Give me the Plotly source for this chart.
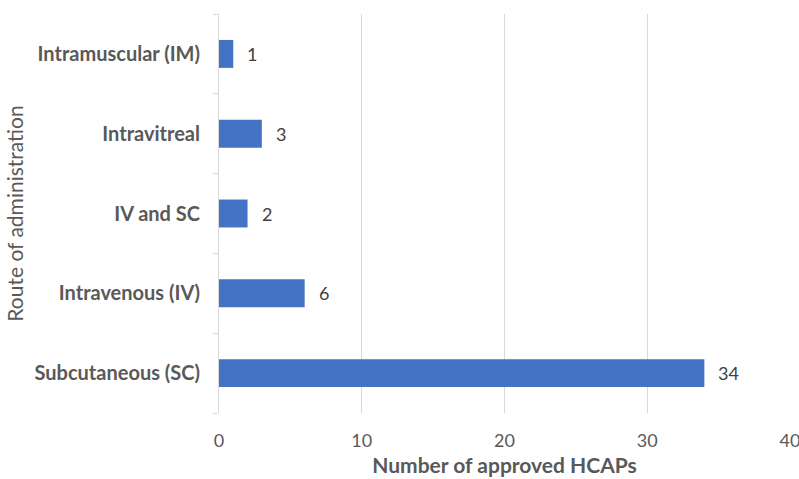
import plotly.graph_objects as go

# Routes of administration, listed bottom to top
routes = ["Subcutaneous (SC)", "Intravenous (IV)", "IV and SC", "Intravitreal", "Intramuscular (IM)"]
counts = [34, 6, 2, 3, 1]
x_ticks = [0, 10, 20, 30, 40]

FONT = "Lato, Calibri, Arial, sans-serif"
GRID = "#d9d9d9"
TEXT = "#595959"

fig = go.Figure(
    go.Bar(
        x=counts,
        y=routes,
        orientation="h",
        marker=dict(color="#4472C4", line=dict(width=0)),
        width=0.35,
        hoverinfo="x+y",
    )
)

# Value labels just past the end of each bar
for r, c in zip(routes, counts):
    fig.add_annotation(
        x=c, y=r, text=str(c), showarrow=False,
        xanchor="left", xshift=12,
        font=dict(family=FONT, size=18, color="#404040"),
    )

fig.update_layout(
    width=799, height=479,
    margin=dict(l=219, r=9, t=14, b=66),
    plot_bgcolor="white", paper_bgcolor="white",
    showlegend=False,
    bargap=0.65,
    xaxis=dict(
        range=[0, 40], tickvals=x_ticks, ticktext=[str(v) for v in x_ticks],
        showgrid=True, gridcolor=GRID, gridwidth=1,
        zeroline=False, showline=False, ticks="",
        tickfont=dict(family=FONT, size=18, color=TEXT),
        ticklabelstandoff=15, ticklabeloverflow="allow",
        automargin=False,
        title=dict(text="<b>Number of approved HCAPs</b>",
                   font=dict(family=FONT, size=21, color=TEXT), standoff=8),
        fixedrange=True,
    ),
    yaxis=dict(
        categoryorder="array", categoryarray=routes,
        showline=True, linecolor=GRID, linewidth=1,
        ticks="outside", tickson="boundaries", ticklen=5, tickcolor=GRID,
        showgrid=False,
        tickfont=dict(family=FONT, size=20, color=TEXT),
        ticklabelstandoff=14,
        automargin=False,
        title=dict(text="Route of administration",
                   font=dict(family=FONT, size=21, color=TEXT), standoff=5),
        fixedrange=True,
    ),
)
fig.update_yaxes(tickprefix="<b>", ticksuffix="</b>")

fig.write_html("out.html")
